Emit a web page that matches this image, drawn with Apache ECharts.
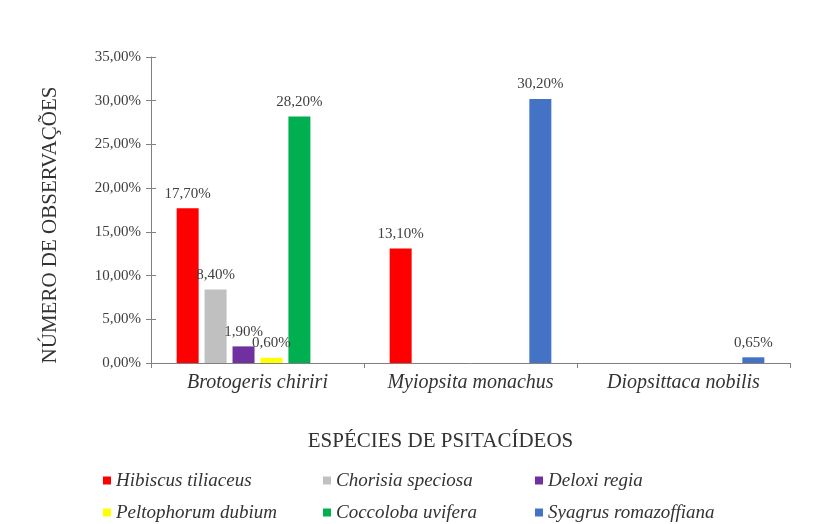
<!DOCTYPE html>
<html>
<head>
<meta charset="utf-8">
<script src="https://cdn.jsdelivr.net/npm/echarts@6/dist/echarts.min.js"></script>
<style>
  html, body { margin: 0; padding: 0; background: #fff; }
  #chart { width: 817px; height: 524px; }
</style>
</head>
<body>
<div id="chart"></div>
<script>
// Parrot species observed (x categories)
var categories = ['Brotogeris chiriri', 'Myiopsita monachus', 'Diopsittaca nobilis'];

// Plant species and share of observations (%) per parrot species
var plantNames = ['Hibiscus tiliaceus', 'Chorisia speciosa', 'Deloxi regia',
                  'Peltophorum dubium', 'Coccoloba uvifera', 'Syagrus romazoffiana'];
var hibiscus    = [17.7, 13.1, 0];
var chorisia    = [8.4, 0, 0];
var deloxi      = [1.9, 0, 0];
var peltophorum = [0.6, 0, 0];
var coccoloba   = [28.2, 0, 0];
var syagrus     = [0, 30.2, 0.65];

var plantColors = ['#ff0000', '#c0c0c0', '#7030a0', '#ffff00', '#00b050', '#4472c4'];
var seriesValues = [hibiscus, chorisia, deloxi, peltophorum, coccoloba, syagrus];

var serif = '"Liberation Serif", "Times New Roman", serif';

function pct(v, digits) {
  return v.toFixed(digits).replace('.', ',') + '%';
}

var series = plantNames.map(function (name, i) {
  return {
    name: name,
    type: 'bar',
    data: seriesValues[i],
    barWidth: 22,
    barGap: '27%',
    itemStyle: { color: plantColors[i] },
    label: {
      show: true,
      position: 'top',
      distance: 7,
      fontFamily: serif,
      fontSize: 15,
      color: '#404040',
      formatter: function (p) { return p.value > 0 ? pct(p.value, 2) : ''; }
    }
  };
});

// one legend per column, two rows each
function legendColumn(names, left) {
  return {
    data: names,
    orient: 'vertical',
    left: left,
    top: 471,
    padding: 0,
    itemWidth: 8,
    itemHeight: 8,
    itemGap: 13,
    icon: 'rect',
    textStyle: {
      fontFamily: serif,
      fontStyle: 'italic',
      fontSize: 19,
      lineHeight: 19,
      color: '#333'
    }
  };
}

var chart = echarts.init(document.getElementById('chart'));
chart.setOption({
  animation: false,
  backgroundColor: '#fff',
  grid: { left: 151, right: 27, top: 57, bottom: 161 },
  legend: [
    legendColumn([plantNames[0], plantNames[3]], 103),
    legendColumn([plantNames[1], plantNames[4]], 323),
    legendColumn([plantNames[2], plantNames[5]], 535)
  ],
  xAxis: {
    type: 'category',
    data: categories,
    name: 'ESPÉCIES DE PSITACÍDEOS',
    nameLocation: 'middle',
    nameGap: 68,
    nameTextStyle: { fontFamily: serif, fontSize: 21, color: '#333', padding: [0, 60, 0, 0] },
    axisLine: { lineStyle: { color: '#808080' } },
    axisTick: { show: true, interval: 0, length: 5, lineStyle: { color: '#808080' } },
    axisLabel: {
      interval: 0,
      fontFamily: serif, fontStyle: 'italic', fontSize: 20, color: '#333', margin: 10
    }
  },
  yAxis: [{
    type: 'value',
    min: 0,
    max: 35,
    interval: 5,
    name: 'NÚMERO DE OBSERVAÇÕES',
    nameLocation: 'middle',
    nameGap: 90,
    nameTextStyle: { fontFamily: serif, fontSize: 21, color: '#333', padding: [0, 30, 0, 0] },
    axisLine: { show: true, lineStyle: { color: '#808080' } },
    axisTick: { show: true, length: 5, lineStyle: { color: '#808080' } },
    splitLine: { show: false },
    axisLabel: {
      fontFamily: serif, fontSize: 15, color: '#404040', margin: 10,
      formatter: function (v) { return pct(v, 2); }
    }
  }, {
    type: 'value',
    position: 'left',
    min: 0,
    max: 35,
    interval: 5,
    axisLine: { show: false },
    axisTick: { show: true, inside: true, length: 5, lineStyle: { color: '#808080' } },
    axisLabel: { show: false },
    splitLine: { show: false }
  }],
  series: series
});
</script>
</body>
</html>
